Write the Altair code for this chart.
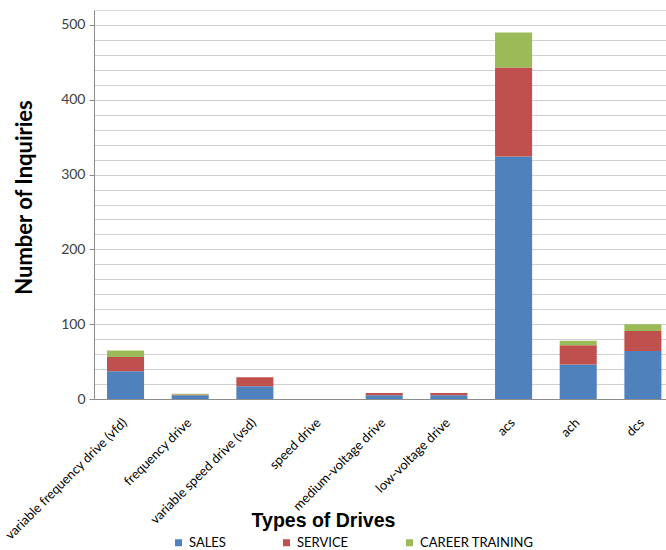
import altair as alt
import pandas as pd

categories = ["variable frequency drive (vfd)", "frequency drive", "variable speed drive (vsd)",
              "speed drive", "medium-voltage drive", "low-voltage drive", "acs", "ach", "dcs"]
series = ["SALES", "SERVICE", "CAREER  TRAINING"]
sales = [37, 5, 17, 0, 5, 5, 324, 46, 64]
service = [19, 1, 12, 0, 3, 3, 119, 26, 27]
training = [9, 1, 0, 0, 0, 0, 47, 6, 9]
colors = ["#4F81BD", "#C0504D", "#9BBB59"]
grid_values = list(range(0, 501, 20))

rows = []
for i, c in enumerate(categories):
    for k, (s, vals) in enumerate(zip(series, [sales, service, training])):
        rows.append({"drive": c, "type": s, "value": vals[i], "order": k})
df = pd.DataFrame(rows)

chart = alt.Chart(df).mark_bar().encode(
    x=alt.X("drive:N", sort=categories,
            scale=alt.Scale(paddingInner=0.427, paddingOuter=0.136, align=0.74),
            axis=alt.Axis(title="Types of Drives", labelAngle=-45, labelFontSize=13,
                          labelFont="Lato", labelColor="#000000", ticks=False,
                          labelPadding=17, labelOffset=-5, domainColor="#8C8C8C",
                          titleFont="Liberation Sans", titleFontSize=19.5, titleFontWeight="bold",
                          titleColor="#000000", titleX=229, titleY=112, titleBaseline="top",
                          titleAnchor="start", titleAlign="center", labelLimit=300)),
    y=alt.Y("value:Q", stack="zero",
            scale=alt.Scale(domain=[0, 520], nice=False),
            axis=alt.Axis(title="Number of Inquiries", values=grid_values,
                          labelExpr="datum.value % 100 === 0 ? datum.label : ''",
                          tickOpacity={"condition": {"test": "datum.value % 100 === 0", "value": 1}, "value": 0},
                          tickSize=5, tickColor="#8C8C8C", labelPadding=4,
                          labelFontSize=14, labelFont="Lato", labelColor="#404040",
                          gridColor="#D0D0D0", domainColor="#8C8C8C",
                          titleFont="Lato", titleFontSize=22, titleFontWeight="bold",
                          titleColor="#000000", titleX=-70, titleY=187,
                          titleAnchor="start", titleAlign="center", titleBaseline="middle")),
    color=alt.Color("type:N", sort=series,
                    scale=alt.Scale(domain=series, range=colors),
                    legend=alt.Legend(title=None, orient="none", direction="horizontal",
                                      legendX=78, legendY=526, symbolType="square",
                                      symbolSize=49, symbolStrokeWidth=0, labelFont="Lato",
                                      labelFontSize=13, labelColor="#000000",
                                      columnPadding=54, labelOffset=4)),
    order=alt.Order("order:Q"),
).properties(
    width=572, height=389,
    autosize=alt.AutoSizeParams(type="none"),
    padding={"left": 94, "top": 10, "right": 0, "bottom": 151},
).configure_view(stroke=None).configure(background="white")

chart.save("out.html", embed_options={"renderer": "svg", "actions": False})
